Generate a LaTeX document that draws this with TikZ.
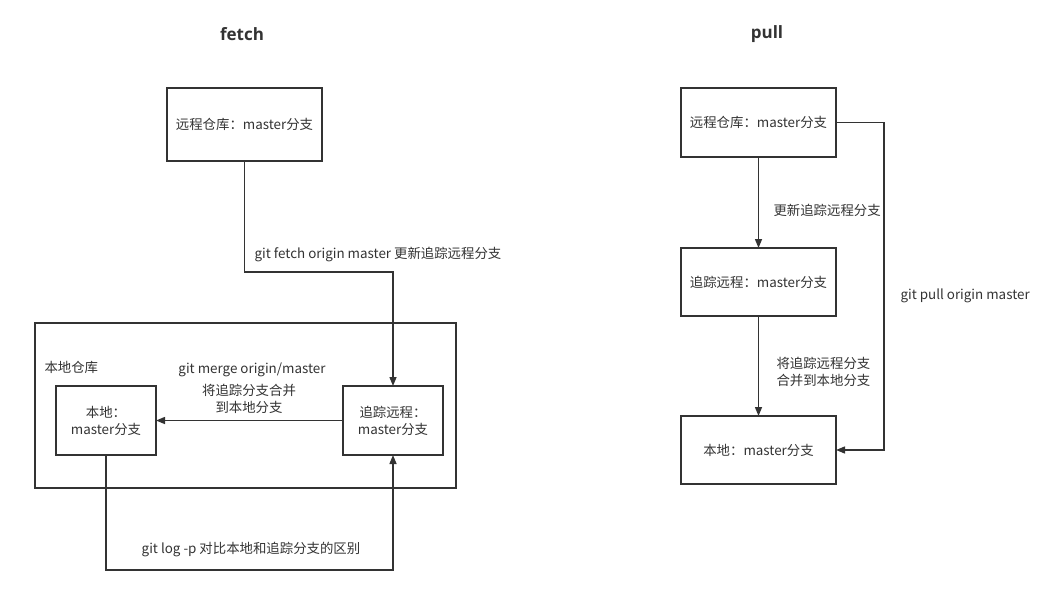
\documentclass[tikz,border=0pt]{standalone}
\usepackage{fontspec}
\setmainfont{Noto Sans CJK SC}
\newfontfamily\titlefont{Open Sans}
\usetikzlibrary{arrows.meta}
\definecolor{ink}{HTML}{333333}

\begin{document}
\begin{tikzpicture}[x=1pt,y=-1pt,>={Triangle[length=9pt,width=7pt]},
 box/.style={draw=ink,line width=1.4pt,inner sep=2pt,outer sep=0pt,align=center,font=\fontsize{13.4}{17}\selectfont,text=ink},
 lbl/.style={font=\fontsize{13.4}{16.5}\selectfont,text=ink,align=center},
 ttl/.style={font=\titlefont\fontsize{17}{20}\selectfont\bfseries,text=ink},
 flow/.style={draw=ink,line width=1.4pt,->}]
 \useasboundingbox (0,0) rectangle (1059,589);
 % fetch
 \node[ttl] (tfetch) at (242,34) {fetch};
 \node[box,minimum width=155,minimum height=73] (fremote) at (244.5,124.5) {远程仓库：master分支};
 \node[box,minimum width=421,minimum height=165] (frepo) at (245.5,405.5) {};
 \node[lbl,anchor=west] (frepolbl) at (41,367) {本地仓库};
 \node[box,minimum width=100,minimum height=69] (flocal) at (106,420.5) {本地：\\master分支};
 \node[box,minimum width=100,minimum height=69] (ftrack) at (393,420.5) {追踪远程：\\master分支};
 \draw[flow] (fremote.south) -- ++(0,111) -| (ftrack.north);
 \node[lbl] (lfetch) at (378,255) {git fetch origin master 更新追踪远程分支};
 \draw[flow] (ftrack.west) -- (flocal.east);
 \node[lbl] (lmerge) at (252,370) {git merge origin/master};
 \node[lbl] (lmerge2) at (249,399) {将追踪分支合并\\到本地分支};
 \draw[flow] (flocal.south) -- ++(0,115) -| (ftrack.south);
 \node[lbl] (llog) at (251,549) {git log -p 对比本地和追踪分支的区别};
 % pull
 \node[ttl] (tpull) at (767,34) {pull};
 \node[box,minimum width=155,minimum height=69] (premote) at (758.5,122.5) {远程仓库：master分支};
 \node[box,minimum width=155,minimum height=68] (ptrack) at (758.5,282) {追踪远程：master分支};
 \node[box,minimum width=155,minimum height=68] (plocal) at (758.5,450) {本地：master分支};
 \draw[flow] (premote) -- (ptrack);
 \node[lbl,anchor=west] (lupd) at (770,210) {更新追踪远程分支};
 \draw[flow] (ptrack) -- (plocal);
 \node[lbl,anchor=west,align=left] (lmrg) at (773,372) {将追踪远程分支\\合并到本地分支};
 \draw[flow] (premote.east) -- ++(48,0) |- (plocal.east);
 \node[lbl,anchor=west] (lpull) at (897,296) {git pull origin master};
\end{tikzpicture}
\end{document}
